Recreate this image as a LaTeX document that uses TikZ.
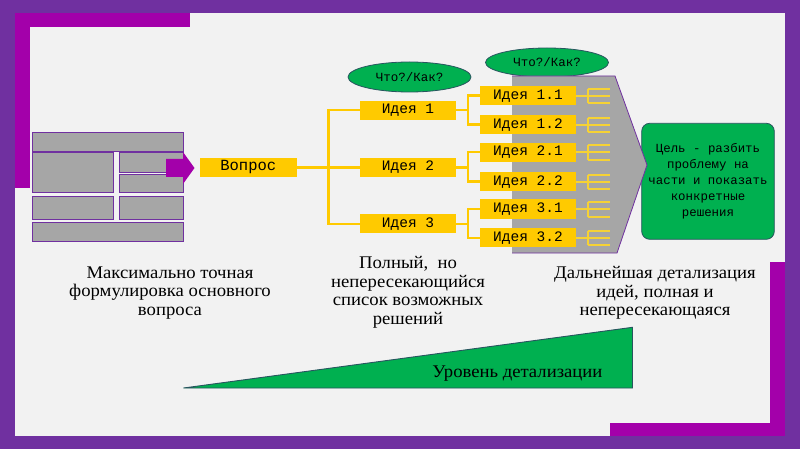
\documentclass[tikz,border=0pt]{standalone}
\usepackage{fontspec}
\setmainfont{Liberation Serif}[FakeStretch=1.05]
\newfontfamily\monof{Liberation Mono}
\usetikzlibrary{shapes.geometric}
\definecolor{purp}{HTML}{7030A0}
\definecolor{mag}{RGB}{163,0,170}
\definecolor{bg}{HTML}{F2F2F2}
\definecolor{gr}{HTML}{A6A6A6}
\definecolor{yel}{HTML}{FFCA00}
\definecolor{lyel}{HTML}{F6D234}
\definecolor{grn}{HTML}{00B050}
\definecolor{eout}{RGB}{40,85,95}
\begin{document}
\begin{tikzpicture}[x=1pt,y=-1pt,
  blk/.style={fill=gr,draw=purp,line width=0.9pt},
  ybox/.style={fill=yel,inner sep=0pt,minimum width=96pt,minimum height=19.3pt,font=\monof\fontsize{14.5}{16}\selectfont},
  conn/.style={draw=yel,line width=2.4pt},
  fork/.style={draw=lyel,line width=2pt},
  ell/.style={ellipse,fill=grn,draw=eout,line width=0.8pt,minimum width=123pt,minimum height=30pt,inner sep=0pt,font=\monof\fontsize{12.5}{14}\selectfont},
  note/.style={align=center,font=\fontsize{17.8}{18.5}\selectfont},
  goal/.style={rounded corners=8pt,fill=grn,draw=eout,line width=0.8pt,minimum width=132.6pt,minimum height=116pt,inner sep=0pt,align=center,font=\monof\fontsize{12.4}{15.8}\selectfont}
]
\useasboundingbox (0,0) rectangle (800,449);
% frame
\fill[purp] (0,0) rectangle (800,449);
\fill[bg] (15,13) rectangle (785,436);
\fill[mag] (15,13) rectangle (190,27);
\fill[mag] (15,13) rectangle (30,188);
\fill[mag] (770,262) rectangle (785,436);
\fill[mag] (610,423) rectangle (785,436);
% left block
\draw[blk] (32,132) rectangle (183,151);
\draw[blk] (32,152.5) rectangle (113,192.5);
\draw[blk] (119.5,152.5) rectangle (183,172.3);
\draw[blk] (119.5,174.3) rectangle (183,192.5);
\draw[blk] (32,196.5) rectangle (113,219.5);
\draw[blk] (119.5,196.5) rectangle (183,219.5);
\draw[blk] (32,222) rectangle (183,241.5);
\fill[mag] (166,159) -- (183,159) -- (183,152) -- (194.5,168) -- (183,184) -- (183,177) -- (166,177) -- cycle;
% question
\node[ybox,minimum width=96.7pt,font=\monof\fontsize{15.5}{17}\selectfont] (q) at (248.3,167.5) {Вопрос};
% ideas
\node[ybox] (i1) at (408,110.3) {Идея 1};
\node[ybox] (i2) at (408,167.5) {Идея 2};
\node[ybox] (i3) at (408,223.7) {Идея 3};
\coordinate (j0) at (328.5,167.5);
\draw[conn] (q.east) -- (j0);
\draw[conn] (i1.west) -| (j0);
\draw[conn] (i3.west) -| (j0);
\draw[conn] (i2.west) -- (j0);
% ellipses
\node[ell] (e1) at (409.5,77) {Что?/Как?};
\node[ell,minimum height=29pt] (e2) at (547,62.5) {Что?/Как?};
% goal box
\node[goal] (g) at (708,181.3) {Цель - разбить\\проблему на\\части и показать\\конкретные\\решения};
% gray arrow
\fill[gr] (512,76) -- (615,76) -- (647,165) -- (617,253) -- (512,253) -- cycle;
\draw[purp,line width=0.8pt] (512,76) -- (615,76) -- (647,165) -- (617,253) -- (512,253);
% sub ideas
\node[ybox] (s11) at (528,95.7) {Идея 1.1};
\node[ybox] (s12) at (528,124.7) {Идея 1.2};
\node[ybox] (s21) at (528,152.3) {Идея 2.1};
\node[ybox] (s22) at (528,181.7) {Идея 2.2};
\node[ybox] (s31) at (528,209) {Идея 3.1};
\node[ybox] (s32) at (528,237.8) {Идея 3.2};
\draw[conn] (i1.east) -- ++(12,0) coordinate (j1);
\draw[conn] (s11.west) -| (j1);
\draw[conn] (s12.west) -| (j1);
\draw[conn] (i2.east) -- ++(12,0) coordinate (j2);
\draw[conn] (s21.west) -| (j2);
\draw[conn] (s22.west) -| (j2);
\draw[conn] (i3.east) -- ++(12,0) coordinate (j3);
\draw[conn] (s31.west) -| (j3);
\draw[conn] (s32.west) -| (j3);
\foreach \s in {s11,s12,s21,s22,s31,s32}{
  \draw[fork] (\s.east) -- ++(12,0) coordinate (f\s);
  \draw[fork] (f\s) ++(0,-7) -- ++(0,14.5);
  \draw[fork] (f\s) ++(0,-7) -- ++(22,0);
  \draw[fork] (f\s) -- ++(22,0);
  \draw[fork] (f\s) ++(0,7.5) -- ++(22,0);
}
% notes
\node[note] (n1) at (170,293) {Максимально точная\\формулировка основного\\вопроса};
\node[note] (n2) at (408,292.5) {Полный,\ \ но\\непересекающийся\\список возможных\\решений};
\node[note] (n3) at (655,293) {Дальнейшая детализация\\идей, полная и\\непересекающаяся};
% triangle
\draw[fill=grn,draw=eout,line width=0.9pt] (183.5,388) -- (632.5,327.3) -- (632.5,388) -- cycle;
\node[font=\fontsize{17.8}{18.5}\selectfont,anchor=east] (lvl) at (606,374) {Уровень детализации};
\end{tikzpicture}
\end{document}
